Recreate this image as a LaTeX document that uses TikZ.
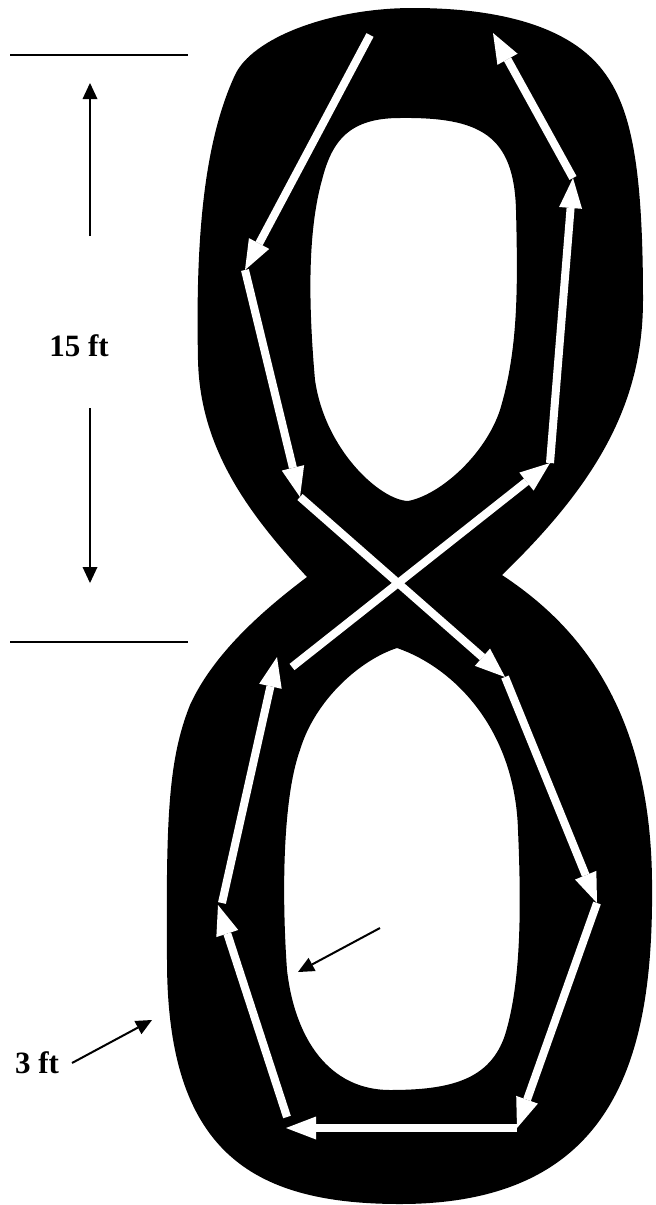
\documentclass[tikz,border=0pt]{standalone}
\usepackage{fontspec}
\setmainfont{Liberation Serif}
\usetikzlibrary{arrows.meta}
\begin{document}
\begin{tikzpicture}[x=1pt,y=-1pt,
  whitearrow/.style={draw=white, line width=8pt, -{Triangle[length=30pt,width=23pt,line width=0pt]}},
  blackarrow/.style={draw=black, line width=2pt, -{Triangle[length=16pt,width=15pt,line width=0pt]}},
  dimline/.style={draw=black, line width=2pt},
  dimlabel/.style={font=\fontsize{31}{31}\selectfont\bfseries, inner sep=0pt}]
\useasboundingbox (0,0) rectangle (656,1205);
% figure eight (outer contour, then the two holes)
\fill[black, even odd rule]
  (307,577) .. controls (250,515) and (200,450) .. (198,360)
  .. controls (196,260) and (200,150) .. (235,75)
  .. controls (252,38) and (330,8) .. (413,8)
  .. controls (496,8) and (565,25) .. (600,67)
  .. controls (630,103) and (643,160) .. (643,300)
  .. controls (643,405) and (595,485) .. (502,575)
  .. controls (570,620) and (650,700) .. (652,880)
  .. controls (654,1050) and (620,1204) .. (400,1204)
  .. controls (250,1204) and (167,1150) .. (167,960)
  .. controls (166,820) and (168,760) .. (190,705)
  .. controls (215,650) and (270,605) .. (307,577) -- cycle
  (400,118) .. controls (480,117) and (514,135) .. (516,210)
  .. controls (518,290) and (518,350) .. (500,410)
  .. controls (485,455) and (440,495) .. (408,501)
  .. controls (380,500) and (325,450) .. (315,380)
  .. controls (308,300) and (308,230) .. (322,180)
  .. controls (332,140) and (350,118) .. (400,118) -- cycle
  (397,648) .. controls (455,668) and (515,730) .. (518,830)
  .. controls (521,900) and (522,980) .. (505,1035)
  .. controls (490,1080) and (450,1090) .. (390,1090)
  .. controls (330,1090) and (295,1040) .. (287,970)
  .. controls (282,900) and (282,800) .. (300,750)
  .. controls (315,700) and (360,660) .. (397,648) -- cycle;
% route waypoints
\coordinate (p1) at (370,35);
\coordinate (p2) at (245,270);
\coordinate (p3) at (300,497);
\coordinate (p4) at (505,677);
\coordinate (p5) at (597,903);
\coordinate (p6) at (517,1128);
\coordinate (p7) at (286,1128);
\coordinate (p7b) at (287,1117);
\coordinate (p8) at (218,905);
\coordinate (p8b) at (222,903);
\coordinate (p9) at (277,657);
\coordinate (p9b) at (292,667);
\coordinate (p10) at (550,463);
\coordinate (p11) at (573,178);
\coordinate (p12) at (493,33);
\draw[whitearrow] (p1) -- (p2);
\draw[whitearrow] (p2) -- (p3);
\draw[whitearrow] (p3) -- (p4);
\draw[whitearrow] (p4) -- (p5);
\draw[whitearrow] (p5) -- (p6);
\draw[whitearrow] (p6) -- (p7);
\draw[whitearrow] (p7b) -- (p8);
\draw[whitearrow] (p8b) -- (p9);
\draw[whitearrow] (p9b) -- (p10);
\draw[whitearrow] (p10) -- (p11);
\draw[whitearrow] (p11) -- (p12);
% dimension 15 ft
\coordinate (dl1) at (10,55);
\coordinate (dl2) at (188,55);
\coordinate (dl3) at (10,642);
\coordinate (dl4) at (188,642);
\draw[dimline] (dl1) -- (dl2);
\draw[dimline] (dl3) -- (dl4);
\node[dimlabel] (t15) at (79,346) {15 ft};
\coordinate (ua) at (90,236);
\coordinate (ub) at (90,83);
\coordinate (da) at (90,408);
\coordinate (db) at (90,583);
\draw[blackarrow] (ua) -- (ub);
\draw[blackarrow] (da) -- (db);
% 3 ft
\node[dimlabel] (t3) at (37,1063) {3 ft};
\coordinate (w1) at (72,1063);
\coordinate (w2) at (152,1020);
\draw[blackarrow] (w1) -- (w2);
\coordinate (w3) at (380,928);
\coordinate (w4) at (298,972);
\draw[blackarrow] (w3) -- (w4);
\end{tikzpicture}
\end{document}
